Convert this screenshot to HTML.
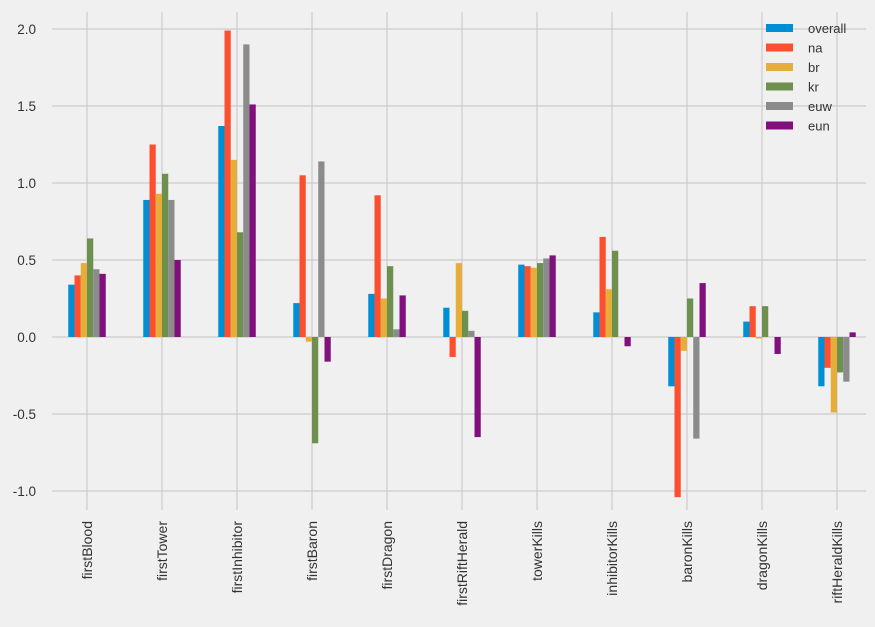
<!DOCTYPE html>
<html><head><meta charset="utf-8"><style>
body{margin:0;background:#f0f0f0;font-family:"Liberation Sans",sans-serif;}
svg{display:block}
</style></head><body>
<svg id="c" width="875" height="627"></svg>
<script>
const categories=["firstBlood","firstTower","firstInhibitor","firstBaron","firstDragon","firstRiftHerald","towerKills","inhibitorKills","baronKills","dragonKills","riftHeraldKills"];
const seriesNames=["overall","na","br","kr","euw","eun"];
const overall=[0.34,0.89,1.37,0.22,0.28,0.19,0.47,0.16,-0.32,0.10,-0.32];
const na=[0.40,1.25,1.99,1.05,0.92,-0.13,0.46,0.65,-1.04,0.20,-0.20];
const br=[0.48,0.93,1.15,-0.03,0.25,0.48,0.45,0.31,-0.09,-0.01,-0.49];
const kr=[0.64,1.06,0.68,-0.69,0.46,0.17,0.48,0.56,0.25,0.20,-0.23];
const euw=[0.44,0.89,1.90,1.14,0.05,0.04,0.51,0.00,-0.66,0.00,-0.29];
const eun=[0.41,0.50,1.51,-0.16,0.27,-0.65,0.53,-0.06,0.35,-0.11,0.03];
const yTicks=[-1.0,-0.5,0.0,0.5,1.0,1.5,2.0];
const colors=["#008fd5","#fc4f30","#e5ae38","#6d904f","#8b8b8b","#810f7c"];
const series=[overall,na,br,kr,euw,eun];
const svg=document.getElementById('c');const NS="http://www.w3.org/2000/svg";
function mk(t,a,p){const e=document.createElementNS(NS,t);for(const k in a)e.setAttribute(k,a[k]);(p||svg).appendChild(e);return e;}
const L=52,R=866,T=12,B=510;
const y=v=>337-v*154;
const x=i=>87+i*75;
mk('rect',{x:0,y:0,width:875,height:627,fill:'#f0f0f0'});
yTicks.forEach(t=>{
 const g=mk('line',{x1:L,x2:R,y1:y(t),y2:y(t),stroke:'#cbcbcb','stroke-width':1.2});
 
 
 const tx=mk('text',{x:36,y:y(t)+5,'text-anchor':'end','font-size':13.5,fill:'#333'});
 tx.textContent=t.toFixed(1);
 
 
});
categories.forEach((c,i)=>{
 const g=mk('line',{x1:x(i),x2:x(i),y1:T,y2:B,stroke:'#cbcbcb','stroke-width':1.2});
 
 
 const tx=mk('text',{transform:`translate(${x(i)+5},521) rotate(-90)`,'text-anchor':'end','font-size':14,fill:'#333'});
 tx.textContent=c;
 
 
});
const bw=6.25;
series.forEach((s,k)=>{
 s.forEach((v,i)=>{
  const bx=x(i)-18.75+k*bw;
  const r=mk('rect',{x:bx,y:Math.min(y(v),y(0)),width:bw,height:Math.abs(y(v)-y(0)),fill:colors[k]});
  
  
 });
});
const lg=mk('g',{});


seriesNames.forEach((n,k)=>{
 const ly=28+k*19.5;
 mk('rect',{x:766,y:ly-4,width:27,height:8,fill:colors[k]},lg);
 const t=mk('text',{x:808,y:ly+5,'font-size':13,fill:'#333'},lg);
 t.textContent=n;
 
 
});
</script>
</body></html>
